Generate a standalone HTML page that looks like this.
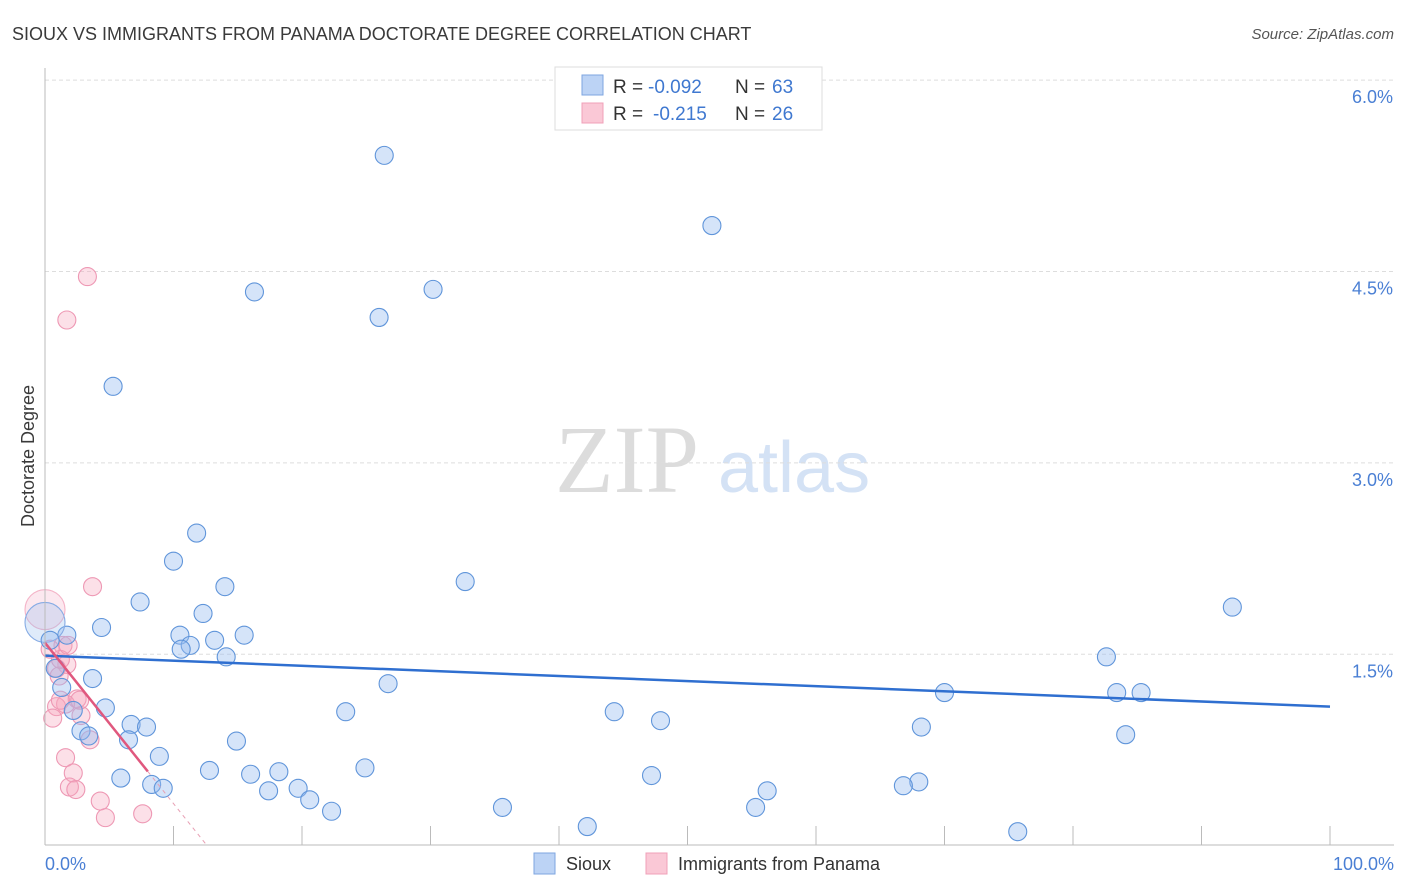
<!DOCTYPE html>
<html><head><meta charset="utf-8"><style>
body{margin:0;background:#fff;font-family:"Liberation Sans",sans-serif;}
svg{display:block}
</style></head><body>
<svg width="1406" height="892" id="chart">
<text x="12" y="40" font-size="18" fill="#3a3a3a">SIOUX VS IMMIGRANTS FROM PANAMA DOCTORATE DEGREE CORRELATION CHART</text>
<text x="1394" y="39" font-size="15" fill="#555" font-style="italic" text-anchor="end">Source: ZipAtlas.com</text>
<text x="555" y="492" font-size="96" fill="#dcdcdc" font-family="Liberation Serif,serif">ZIP</text>
<text x="718" y="492" font-size="72" fill="#d4e2f5">atlas</text>
<text transform="translate(34,456) rotate(-90)" font-size="18" fill="#3a3a3a" text-anchor="middle">Doctorate Degree</text>
<g id="grid"></g><g id="pts"></g><g id="lines"></g>
<line x1="45" y1="68" x2="45" y2="845" stroke="#bbb"/>
<line x1="45" y1="845" x2="1394" y2="845" stroke="#bbb"/>
<text x="45" y="870" font-size="18" fill="#4a7fd4">0.0%</text>
<text x="1394" y="870" font-size="18" fill="#4a7fd4" text-anchor="end">100.0%</text>
<g>
<rect x="555" y="67" width="267" height="63" fill="#fff" stroke="#ddd"/>
<rect x="582" y="75" width="21" height="20" fill="#bcd3f5" stroke="#7ea6e0"/>
<rect x="582" y="103" width="21" height="20" fill="#fac8d6" stroke="#f0a0b8"/>
<text x="613" y="93" font-size="19" fill="#333">R =</text>
<text x="648" y="93" font-size="19" fill="#3f78d0">-0.092</text>
<text x="735" y="93" font-size="19" fill="#333">N =</text>
<text x="772" y="93" font-size="19" fill="#3f78d0">63</text>
<text x="613" y="120" font-size="19" fill="#333">R =</text>
<text x="653" y="120" font-size="19" fill="#3f78d0">-0.215</text>
<text x="735" y="120" font-size="19" fill="#333">N =</text>
<text x="772" y="120" font-size="19" fill="#3f78d0">26</text>
</g>
<g>
<rect x="534" y="853" width="21" height="21" fill="#bcd3f5" stroke="#7ea6e0"/>
<text x="566" y="870" font-size="18" fill="#333">Sioux</text>
<rect x="646" y="853" width="21" height="21" fill="#fac8d6" stroke="#f0a0b8"/>
<text x="678" y="870" font-size="18" fill="#333">Immigrants from Panama</text>
</g>
</svg>
<script>
const yTicks=[1.5,3.0,4.5,6.0];
const xTicks=[0,10,20,30,40,50,60,70,80,90,100];
const siouxX=[26.4,51.9,16.3,30.2,26.0,5.3,11.8,10.0,32.7,7.4,14.0,92.4,12.3,4.4,1.7,10.5,15.5,13.2,11.3,10.6,14.1,82.6,3.7,26.7,1.3,0.8,83.4,85.3,70.0,4.7,23.4,44.3,2.2,6.7,7.9,47.9,68.2,2.8,3.4,6.5,14.9,84.1,8.9,24.9,12.8,18.2,16.0,5.9,47.2,8.3,9.2,68.0,66.8,56.2,19.7,17.4,20.6,55.3,22.3,35.6,42.2,75.7,0,0.4];
const siouxY=[5.41,4.86,4.34,4.36,4.14,3.60,2.45,2.23,2.07,1.91,2.03,1.87,1.82,1.71,1.65,1.65,1.65,1.61,1.57,1.54,1.48,1.48,1.31,1.27,1.24,1.39,1.20,1.20,1.20,1.08,1.05,1.05,1.06,0.95,0.93,0.98,0.93,0.90,0.86,0.83,0.82,0.87,0.70,0.61,0.59,0.58,0.56,0.53,0.55,0.48,0.45,0.50,0.47,0.43,0.45,0.43,0.36,0.30,0.27,0.30,0.15,0.11,1.75,1.61];
const panamaX=[3.3,1.7,3.7,0,1.4,1.7,0.9,1.1,2.5,1.6,0.9,2.8,0.6,3.5,1.6,2.2,1.9,2.4,4.3,4.7,7.6,1.2,0.4,1.2,2.7,1.8];
const panamaY=[4.46,4.12,2.03,1.85,1.57,1.42,1.39,1.33,1.15,1.11,1.09,1.02,1.00,0.83,0.69,0.57,0.46,0.44,0.35,0.22,0.25,1.46,1.54,1.14,1.14,1.57];
const siouxTrend=[1.49,1.09];
const panamaTrend=[1.59,-0.126];
const NS='http://www.w3.org/2000/svg';
const sx=v=>45+v*12.85, sy=v=>845.7-v*127.6;
function mk(tag,attrs,parent){const e=document.createElementNS(NS,tag);for(const k in attrs)e.setAttribute(k,attrs[k]);parent.appendChild(e);return e;}
const grid=document.getElementById('grid'),pts=document.getElementById('pts'),lines=document.getElementById('lines'),svg=document.getElementById('chart');
yTicks.forEach(t=>{
 const l=mk('line',{x1:45,x2:1394,y1:sy(t),y2:sy(t),stroke:'#ddd','stroke-dasharray':'4,3'},grid);
 
 
 const tx=mk('text',{x:1393,y:sy(t)+23,'font-size':18,fill:'#4a7fd4','text-anchor':'end'},svg);
 tx.textContent=t.toFixed(1)+'%';
 
 
});
xTicks.forEach(t=>{if(t===0)return;
 const l=mk('line',{x1:sx(t),x2:sx(t),y1:826,y2:845,stroke:'#bbb'},grid);
 
 
});
function dots(X,Y,fill,stroke,bigFill,bigStroke,name){X.forEach((x,i)=>{
 const big=(x===0);
 const c=mk('circle',{cx:sx(x),cy:sy(Y[i]),r:big?20:9,fill:big?bigFill:fill,stroke:big?bigStroke:stroke,'stroke-width':1.1},pts);
 
 
});}
dots(panamaX,panamaY,'rgba(245,165,190,0.35)','#ee98b4','rgba(245,165,190,0.25)','#f4b4c8','panama-point');
dots(siouxX,siouxY,'rgba(150,188,240,0.4)','#6095da','rgba(150,188,240,0.3)','#86abe4','sioux-point');
const bl=mk('line',{x1:sx(0),y1:sy(siouxTrend[0]),x2:sx(100),y2:sy(siouxTrend[1]),stroke:'#2f6fd0','stroke-width':2.5},lines);


const pf=x=>panamaTrend[0]+panamaTrend[1]*x;
const pl=mk('line',{x1:sx(0),y1:sy(pf(0)),x2:sx(8),y2:sy(pf(8)),stroke:'#e0587e','stroke-width':2.5},lines);


const pd=mk('line',{x1:sx(8),y1:sy(pf(8)),x2:sx(12.6),y2:sy(pf(12.6)),stroke:'#e8a0b4','stroke-width':1,'stroke-dasharray':'4,4'},lines);


</script>
</body></html>
